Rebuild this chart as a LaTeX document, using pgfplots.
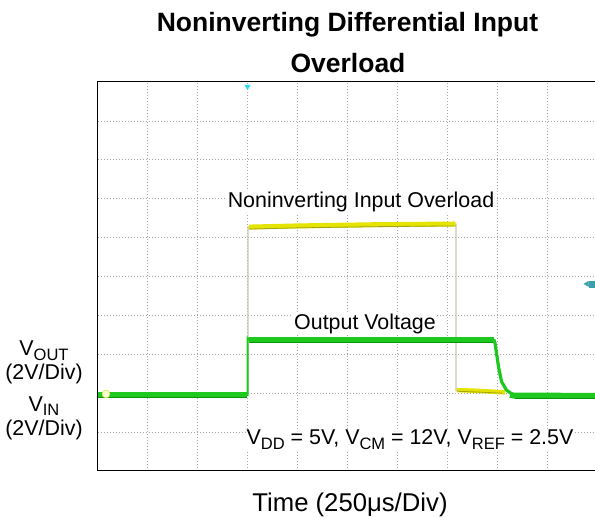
\documentclass[border=0pt]{standalone}
\usepackage{fontspec}
\setmainfont{Liberation Sans}
\usepackage{pgfplots}
\pgfplotsset{compat=1.18}
\definecolor{scgreen}{RGB}{30,200,30}
\definecolor{scdkgreen}{RGB}{10,150,10}
\definecolor{scyellow}{RGB}{228,228,0}
\definecolor{scolive}{RGB}{165,165,20}
\definecolor{sckhaki}{RGB}{200,200,170}
\definecolor{sccyan}{RGB}{40,220,240}
\definecolor{scteal}{RGB}{60,160,170}
\newcommand{\sub}[1]{\raisebox{-4.5pt}{\fontsize{16.5}{16.5}\selectfont #1}}
\begin{document}
\begin{tikzpicture}
\useasboundingbox (0,0) rectangle (595pt,518pt);
\begin{axis}[at={(97.5pt,47pt)}, anchor=south west, scale only axis,
  width=497.5pt, height=389pt, xmin=0, xmax=9.95, ymin=0, ymax=10,
  xtick={1,...,9}, ytick={1,...,9}, xticklabels={}, yticklabels={},
  ticklabel style={opacity=0},
  major tick length=0pt, grid=major,
  major grid style={black!35, line width=0.7pt, dash pattern=on 1pt off 2pt},
  axis line style={draw=none}]
% input (yellow)
\addplot[sckhaki, line width=1.2pt] coordinates {(0,2.0)(3.01,2.0)(3.01,6.27)(7.17,6.35)(7.17,2.07)(8.15,2.0)};
\addplot[scyellow, line width=5pt] coordinates {(3.03,6.27)(4.0,6.30)(5.5,6.33)(7.16,6.35)};
\addplot[scolive, line width=0.8pt] coordinates {(3.03,6.22)(4.0,6.25)(5.5,6.28)(7.16,6.30)};
\addplot[scyellow, line width=4.5pt] coordinates {(7.19,2.08)(7.6,2.06)(8.15,2.02)};
\addplot[scolive, line width=0.8pt] coordinates {(7.19,2.05)(7.6,2.03)(8.1,2.0)};
% output (green)
\addplot[scgreen, line width=2pt] coordinates {(0,1.95)(3.0,1.95)(3.0,3.42)(3.05,3.37)(7.93,3.37)(7.95,3.29)(8.02,2.68)(8.08,2.30)(8.18,2.08)(8.32,1.95)(9.95,1.93)};
\addplot[scgreen, line width=3.2pt] coordinates {(7.93,3.37)(7.95,3.29)(8.02,2.68)(8.08,2.30)(8.18,2.08)(8.32,1.95)};
\addplot[scgreen, line width=6pt] coordinates {(0,1.95)(2.99,1.95)};
\addplot[scgreen, line width=6.5pt] coordinates {(3.02,3.37)(7.93,3.37)};
\addplot[scgreen, line width=6pt] coordinates {(8.25,1.96)(8.32,1.94)(9.95,1.93)};
\addplot[scdkgreen, line width=0.6pt] coordinates {(3.05,3.30)(7.9,3.30)};
\addplot[scdkgreen, line width=0.6pt] coordinates {(0,1.89)(2.98,1.89)};
\addplot[scdkgreen, line width=0.6pt] coordinates {(8.35,1.87)(9.95,1.87)};
% markers
\addplot[only marks, mark=triangle*, mark size=3pt, mark options={rotate=180, fill=sccyan, draw=sccyan}] coordinates {(3.0,9.88)};
\addplot[only marks, mark=triangle*, mark size=3pt, mark options={rotate=90, fill=scteal, draw=scteal}] coordinates {(9.79,4.81)};
\addplot[only marks, mark=square*, mark size=3pt, mark options={fill=scteal, draw=scteal}] coordinates {(9.9,4.81)};
\addplot[only marks, mark=*, mark size=4pt, mark options={fill=yellow!15, draw=yellow!80!green}] coordinates {(0.17,1.98)};
\end{axis}
\draw[line width=1pt] (596pt,436pt) -- (97.5pt,436pt) -- (97.5pt,47pt) -- (596pt,47pt);
\node[font=\fontsize{26.5}{30}\selectfont\bfseries, anchor=base] at (347.5pt,486pt) {Noninverting Differential Input};
\node[font=\fontsize{26.5}{30}\selectfont\bfseries, anchor=base] at (348pt,445pt) {Overload};
\node[font=\fontsize{21.4}{24}\selectfont, anchor=base, fill=white, inner sep=1pt] at (361pt,310pt) {Noninverting Input Overload};
\node[font=\fontsize{21.4}{24}\selectfont, anchor=base, fill=white, inner sep=1pt] at (365pt,188pt) {Output Voltage};
\node[font=\fontsize{21.4}{24}\selectfont, anchor=base, fill=white, inner sep=1pt] at (410pt,73pt) {V\sub{DD} = 5V, V\sub{CM} = 12V, V\sub{REF} = 2.5V};
\node[font=\fontsize{25.7}{28}\selectfont, anchor=base] at (350pt,6pt) {Time (250μs/Div)};
\node[font=\fontsize{21.4}{24}\selectfont, anchor=base, inner sep=0pt] at (44pt,162pt) {V\sub{OUT}};
\node[font=\fontsize{21.4}{24}\selectfont, anchor=base, inner sep=0pt] at (44pt,138pt) {(2V/Div)};
\node[font=\fontsize{21.4}{24}\selectfont, anchor=base, inner sep=0pt] at (44pt,106.5pt) {V\sub{IN}};
\node[font=\fontsize{21.4}{24}\selectfont, anchor=base, inner sep=0pt] at (44pt,82.5pt) {(2V/Div)};
\end{tikzpicture}
\end{document}
